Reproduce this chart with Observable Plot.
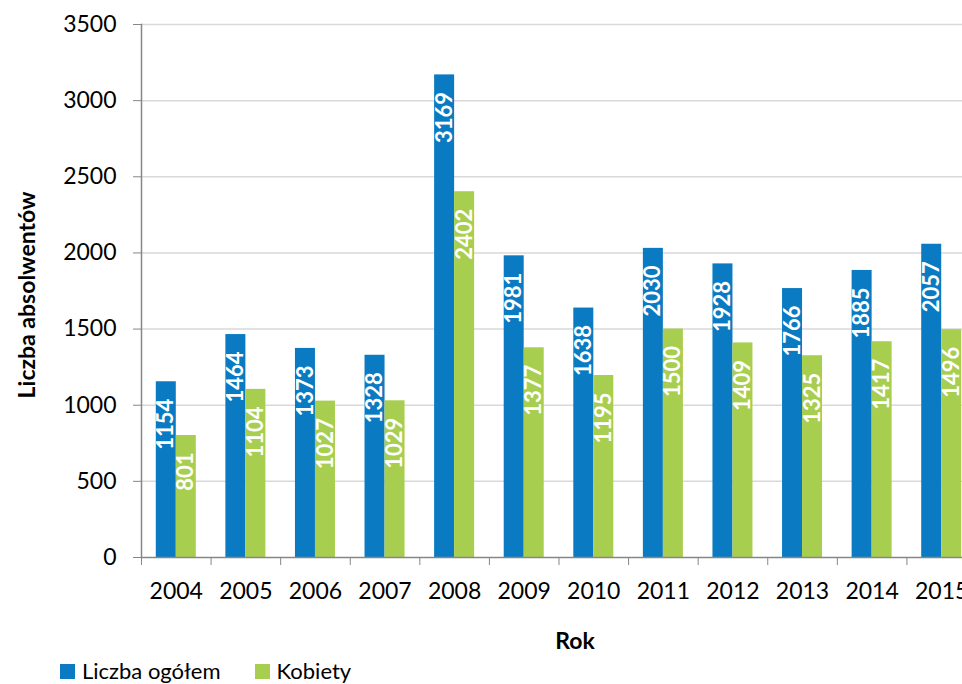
<!DOCTYPE html>
<html>
<head>
<meta charset="utf-8">
<script src="https://cdn.jsdelivr.net/npm/d3@7"></script>
<script src="https://cdn.jsdelivr.net/npm/@observablehq/plot@0.6"></script>
<style>
  html, body { margin: 0; padding: 0; background: white; overflow: hidden; }
  body { width: 962px; height: 684px; font-family: Lato, sans-serif; }
  #legend { display: flex; align-items: center; height: 22px; line-height: 22px; margin-left: 60px; font-size: 22px; color: #000; }
  #legend .sw { width: 15px; height: 15px; display: inline-block; margin-right: 7px; }
  #legend .item { display: flex; align-items: center; margin-right: 34px; }
</style>
</head>
<body>
<div id="chart"></div>
<div id="legend"></div>
<script>
const years = [2004, 2005, 2006, 2007, 2008, 2009, 2010, 2011, 2012, 2013, 2014, 2015];
const total = [1154, 1464, 1373, 1328, 3169, 1981, 1638, 2030, 1928, 1766, 1885, 2057];
const women = [801, 1104, 1027, 1029, 2402, 1377, 1195, 1500, 1409, 1325, 1417, 1496];
const seriesNames = ["Liczba ogółem", "Kobiety"];
const seriesColors = ["#0A7BC2", "#A8CE50"];
const yTicks = [0, 500, 1000, 1500, 2000, 2500, 3000, 3500];
const yTitle = "Liczba absolwentów";
const xTitle = "Rok";

const half = 0.2875; // bar width as fraction of category step
const rows = [];
years.forEach((yr, i) => {
  rows.push({year: yr, series: seriesNames[0], value: total[i], x1: yr - half, x2: yr});
  rows.push({year: yr, series: seriesNames[1], value: women[i], x1: yr, x2: yr + half});
});
const boundaries = years.map(y => y - 0.5).concat([years[years.length - 1] + 0.5]);

const plot = Plot.plot({
  width: 962,
  height: 660,
  marginLeft: 141,
  marginRight: 0,
  marginTop: 24,
  marginBottom: 103,
  style: {fontFamily: "Lato, sans-serif", fontSize: "23px", color: "black", background: "white", maxWidth: "none"},
  x: {type: "linear", domain: [years[0] - 0.5, years[years.length - 1] + 0.5], range: [141, 976]},
  y: {domain: [0, 3500]},
  color: {domain: seriesNames, range: seriesColors},
  marks: [
    Plot.gridY(yTicks.filter(d => d > 0), {stroke: "#D9D9D9", strokeOpacity: 1, strokeWidth: 1.5}),
    Plot.rect(rows, {x1: "x1", x2: "x2", y1: 0, y2: "value", fill: "series"}),
    Plot.ruleY([0], {stroke: "#868686", strokeWidth: 1.5}),
    Plot.frame({anchor: "left", stroke: "#868686", strokeWidth: 1.5}),
    Plot.axisY({ticks: yTicks, tickSize: 8, tickPadding: 17, stroke: "#868686", fill: "black", label: null, tickFormat: d => String(d)}),
    Plot.axisX({ticks: boundaries, tickSize: 8, stroke: "#868686", tickFormat: () => "", label: null}),
    Plot.axisX({ticks: years, tickSize: 0, tickPadding: 25, fill: "black", tickFormat: d => String(d), label: null}),
    Plot.text(rows, {
      x: d => (d.x1 + d.x2) / 2, y: "value", text: d => String(d.value),
      rotate: -90, textAnchor: "end", lineAnchor: "middle", dy: 17,
      fill: "white", fontWeight: "bold", fontSize: 22
    }),
    Plot.text([yTitle], {text: d => d, frameAnchor: "left", rotate: -90, dx: -114, dy: 4, fontWeight: "bold", fontSize: 23, fill: "black", textAnchor: "middle", lineAnchor: "middle"}),
    Plot.text([xTitle], {text: d => d, frameAnchor: "bottom", dx: 23, dy: 84, fontWeight: "bold", fontSize: 23, fill: "black", textAnchor: "middle", lineAnchor: "middle"})
  ]
});
document.getElementById("chart").appendChild(plot);

const legend = document.getElementById("legend");
seriesNames.forEach((name, i) => {
  const item = document.createElement("span");
  item.className = "item";
  const sw = document.createElement("span");
  sw.className = "sw";
  sw.style.background = seriesColors[i];
  const t = document.createElement("span");
  t.textContent = name;
  item.appendChild(sw);
  item.appendChild(t);
  legend.appendChild(item);
});
</script>
</body>
</html>
